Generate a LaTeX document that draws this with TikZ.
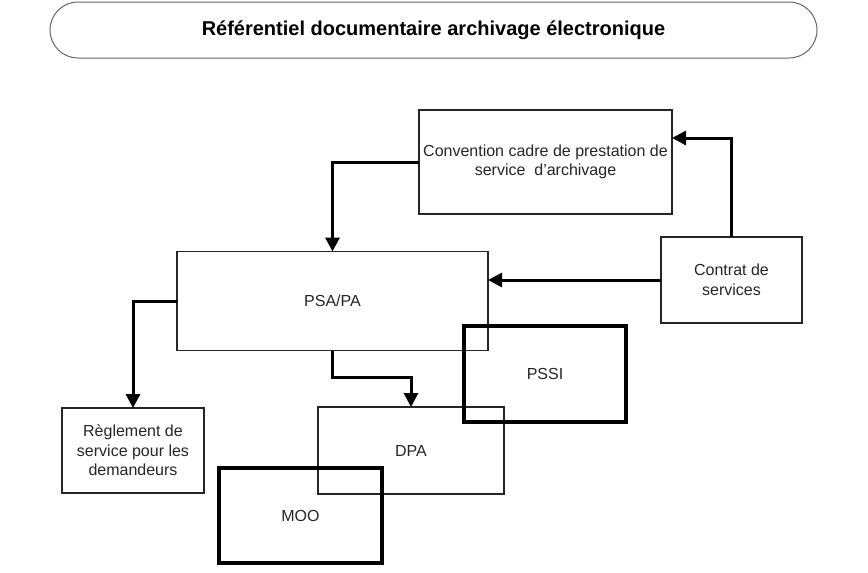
\documentclass[tikz,border=0pt]{standalone}
\usepackage{fontspec}
\setmainfont{Liberation Sans}
\usetikzlibrary{arrows.meta}
\begin{document}
\begin{tikzpicture}[x=1pt,y=-1pt,
  box/.style={draw=black!85,line width=1.1pt,rectangle,inner sep=2pt,outer sep=0pt,align=center,font=\fontsize{16}{19.5}\selectfont,text=black!85},
  thickbox/.style={box,draw=black,line width=3.6pt},
  arr/.style={line width=3pt,-{Triangle[width=14pt,length=14pt]}}]
\fill[white] (0,0) rectangle (868,573);
\useasboundingbox (0,0) rectangle (868,573);
\node[draw=black!60,line width=1pt,rounded corners=28pt,minimum width=767pt,minimum height=56pt,font=\fontsize{20}{24}\selectfont\bfseries] (title) at (433.5,30) {Référentiel documentaire archivage électronique};
\node[box,minimum width=253pt,minimum height=104pt] (conv) at (545.5,162) {Convention cadre de prestation de\\service\ \ d’archivage};
\node[box,minimum width=141pt,minimum height=86pt] (contrat) at (731.5,280) {Contrat de\\services};
\node[box,minimum width=311pt,minimum height=99pt] (psa) at (332.5,301) {PSA/PA};
\node[box,minimum width=142pt,minimum height=85pt] (regl) at (133,450.5) {Règlement de\\service pour les\\demandeurs};
\node[box,minimum width=186pt,minimum height=87pt] (dpa) at (411,450.5) {DPA};
\node[thickbox,minimum width=162pt,minimum height=96pt] (pssi) at (545,374) {PSSI};
\node[thickbox,minimum width=163pt,minimum height=95pt] (moo) at (300.5,515.5) {MOO};
\draw[arr] (conv.west) -| (psa.north);
\draw[arr] (contrat.north) |- ([yshift=24pt]conv.east);
\draw[arr] (contrat.west) -- (contrat.west -| psa.east);
\draw[arr] (psa.west) -| (regl.north);
\draw[arr] (psa.south) -- ++(0,27) -| (dpa.north);
\end{tikzpicture}
\end{document}
